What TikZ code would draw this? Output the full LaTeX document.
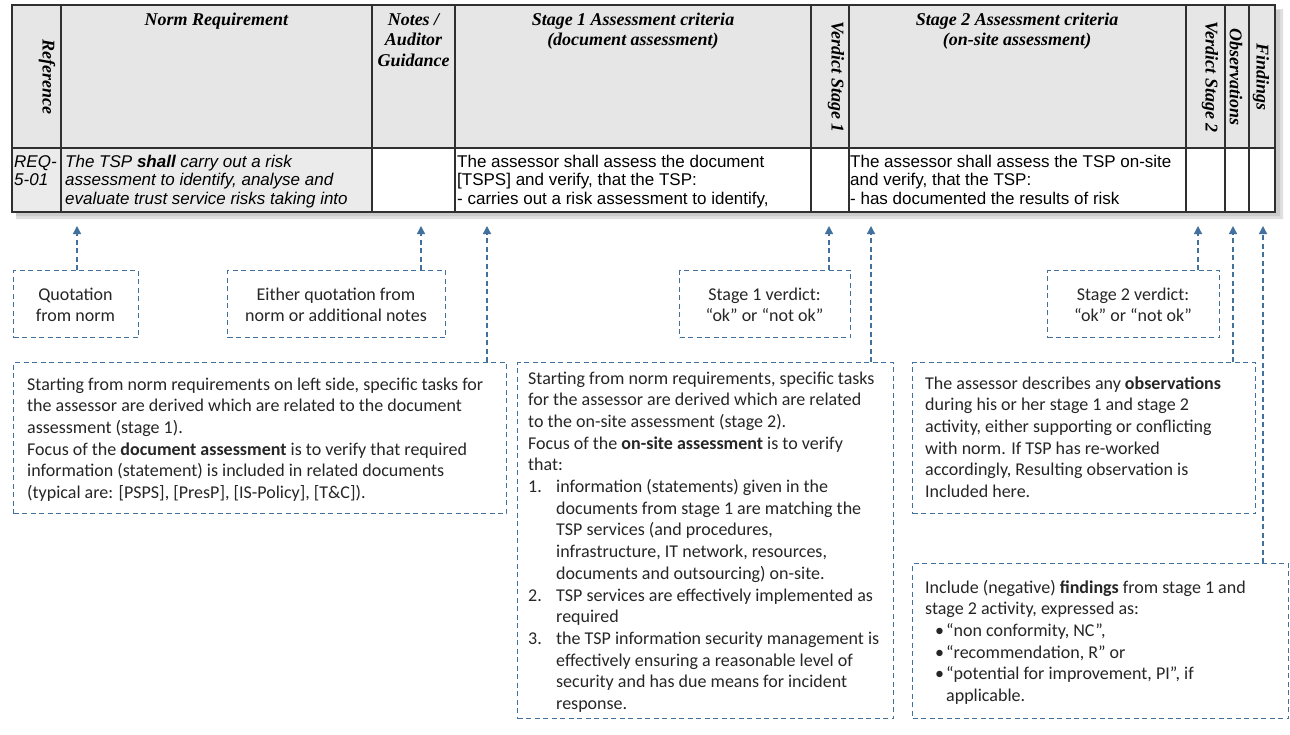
\documentclass[tikz,border=0pt]{standalone}
\usepackage{fontspec}
\setmainfont{Carlito}
\newfontfamily\timesfont{Liberation Serif}
\newfontfamily\arialfont{Liberation Sans}
\usetikzlibrary{arrows.meta}
\definecolor{cblue}{HTML}{41719C}
\definecolor{hgray}{HTML}{E6E6E6}
\definecolor{rgray}{HTML}{EBEBEB}
\definecolor{tline}{HTML}{303030}
\begin{document}
\begin{tikzpicture}[x=1pt,y=-1pt,
 cbox/.style={draw=cblue, line width=1.3pt, dash pattern=on 5pt off 3.5pt, inner sep=0, anchor=north west},
 conn/.style={draw=cblue, line width=1.3pt, dash pattern=on 5pt off 3.5pt, -{Triangle[length=8pt,width=8pt]}},
 ctext/.style={inner sep=0, font=\fontsize{18}{21.7}\selectfont, text=black!85},
 hdr/.style={inner sep=0, anchor=base, font=\timesfont\bfseries\itshape\fontsize{18}{20.5}\selectfont},
 vhdr/.style={inner sep=0, anchor=center, rotate=-90, font=\timesfont\bfseries\itshape\fontsize{18}{20.5}\selectfont},
 rowtxt/.style={inner sep=0, anchor=base west, font=\arialfont\fontsize{17}{18.5}\selectfont},
 tab/.style={draw=tline, line width=1.5pt}]
\fill[white] (0,0) rectangle (1290,734);
\useasboundingbox (0,0) rectangle (1290,734);

% table shadow
\fill[black!35, opacity=0.35] (1275,9) -- (1283,9) -- (1283,219) -- (16,219) -- (16,212) -- (1275,212) -- cycle;
\fill[black!35, opacity=0.35] (1275,10) -- (1280,10) -- (1280,216) -- (16,216) -- (16,212) -- (1275,212) -- cycle;

% table
\fill[hgray] (12,5) rectangle (1275,148);
\fill[rgray] (12,148) rectangle (372,212);
\draw[tab] (12,5) rectangle (1275,212);
\draw[tab] (12,148) -- (1275,148);
\foreach \x in {61,372,455,811,849,1186,1225,1249} \draw[tab] (\x,5) -- (\x,212);

% header texts
\node[vhdr] (hRef) at (47,77) {Reference};
\node[hdr] (hNorm) at (216.5,25) {\parbox[t]{300pt}{\centering Norm Requirement}};
\node[hdr] (hNotes) at (413.5,25) {\parbox[t]{90pt}{\centering Notes /\\Auditor\\Guidance}};
\node[hdr] (hS1) at (633,25) {\parbox[t]{340pt}{\centering Stage 1 Assessment criteria\\(document assessment)}};
\node[vhdr] (hV1) at (836,77) {Verdict Stage 1};
\node[hdr] (hS2) at (1017,25) {\parbox[t]{330pt}{\centering Stage 2 Assessment criteria\\(on-site assessment)}};
\node[vhdr] (hV2) at (1210,77) {Verdict Stage 2};
\node[vhdr] (hObs) at (1236,77) {Observations};
\node[vhdr] (hFind) at (1261,77) {Findings};

% data row
\node[rowtxt] (dRef) at (14,167) {\parbox[t]{60pt}{\itshape REQ-\\5-01}};
\node[rowtxt] (dNorm) at (65,167) {\parbox[t]{400pt}{\itshape The TSP \textbf{shall} carry out a risk\\assessment to identify, analyse and\\evaluate trust service risks taking into}};
\node[rowtxt] (dS1) at (457,167) {\parbox[t]{400pt}{The assessor shall assess the document\\{[TSPS]} and verify, that the TSP:\\- carries out a risk assessment to identify,}};
\node[rowtxt] (dS2) at (850,167) {\parbox[t]{400pt}{The assessor shall assess the TSP on-site\\and verify, that the TSP:\\- has documented the results of risk}};

% arrow tips
\coordinate (t1) at (77,226);
\coordinate (t2) at (421,226);
\coordinate (t3) at (487,226);
\coordinate (t4) at (829,226);
\coordinate (t5) at (871,226);
\coordinate (t6) at (1198,226);
\coordinate (t7) at (1233,226);
\coordinate (t8) at (1263,226);

% small callout boxes
\node[cbox, minimum width=125pt, minimum height=67pt] (qBox) at (13,270) {};
\node[ctext, anchor=base] (qTxt) at (75.5,300) {\parbox[t]{120pt}{\centering Quotation\\from norm}};
\node[cbox, minimum width=218pt, minimum height=67pt] (eBox) at (227,270) {};
\node[ctext, anchor=base] (eTxt) at (336,300) {\parbox[t]{210pt}{\centering Either quotation from\\norm or additional notes}};
\node[cbox, minimum width=171pt, minimum height=67pt] (v1Box) at (679,270) {};
\node[ctext, anchor=base] (v1Txt) at (764.5,300) {\parbox[t]{165pt}{\centering Stage 1 verdict:\\“ok” or “not ok”}};
\node[cbox, minimum width=172pt, minimum height=67pt] (v2Box) at (1047,270) {};
\node[ctext, anchor=base] (v2Txt) at (1133,300) {\parbox[t]{165pt}{\centering Stage 2 verdict:\\“ok” or “not ok”}};

% large callout boxes
\node[cbox, minimum width=493pt, minimum height=151pt] (b1Box) at (13,362) {};
\node[ctext, anchor=base west] (b1Txt) at (27,390) {\parbox[t]{480pt}{Starting from norm requirements on left side, specific tasks for\\the assessor are derived which are related to the document\\assessment (stage 1).\\Focus of the \textbf{document assessment} is to verify that required\\information (statement) is included in related documents\\(typical are: [PSPS], [PresP], [IS-Policy], [T\&C]).}};

\node[cbox, minimum width=376pt, minimum height=356pt] (b2Box) at (517,362) {};
\node[ctext, anchor=base west] (b2Txt) at (528,384) {\parbox[t]{370pt}{Starting from norm requirements, specific tasks\\for the assessor are derived which are related\\to the on-site assessment (stage 2).\\Focus of the \textbf{on-site assessment} is to verify\\that:\\\makebox[28pt][l]{1.}information (statements) given in the\\\hspace*{28pt}documents from stage 1 are matching the\\\hspace*{28pt}TSP services (and procedures,\\\hspace*{28pt}infrastructure, IT network, resources,\\\hspace*{28pt}documents and outsourcing) on-site.\\\makebox[28pt][l]{2.}TSP services are effectively implemented as\\\hspace*{28pt}required\\\makebox[28pt][l]{3.}the TSP information security management is\\\hspace*{28pt}effectively ensuring a reasonable level of\\\hspace*{28pt}security and has due means for incident\\\hspace*{28pt}response.}};

\node[cbox, minimum width=343pt, minimum height=151pt] (b3Box) at (912,362) {};
\node[ctext, anchor=base west] (b3Txt) at (925,389) {\parbox[t]{330pt}{The assessor describes any \textbf{observations}\\during his or her stage 1 and stage 2\\activity, either supporting or conflicting\\with norm. If TSP has re-worked\\accordingly, Resulting observation is\\Included here.}};

\node[cbox, minimum width=376pt, minimum height=155pt] (b4Box) at (912,563) {};
\node[ctext, anchor=base west] (b4Txt) at (925,593) {\parbox[t]{360pt}{Include (negative) \textbf{findings} from stage 1 and\\stage 2 activity, expressed as:\\\makebox[21pt][l]{\hspace*{10pt}•}“non conformity, NC”,\\\makebox[21pt][l]{\hspace*{10pt}•}“recommendation, R” or\\\makebox[21pt][l]{\hspace*{10pt}•}“potential for improvement, PI”, if\\\hspace*{21pt}applicable.}};

% connectors
\draw[conn] (qBox.north -| t1) -- (t1);
\draw[conn] (eBox.north -| t2) -- (t2);
\draw[conn] (b1Box.north -| t3) -- (t3);
\draw[conn] (v1Box.north -| t4) -- (t4);
\draw[conn] (b2Box.north -| t5) -- (t5);
\draw[conn] (v2Box.north -| t6) -- (t6);
\draw[conn] (b3Box.north -| t7) -- (t7);
\draw[conn] (b4Box.north -| t8) -- (t8);
\end{tikzpicture}
\end{document}
